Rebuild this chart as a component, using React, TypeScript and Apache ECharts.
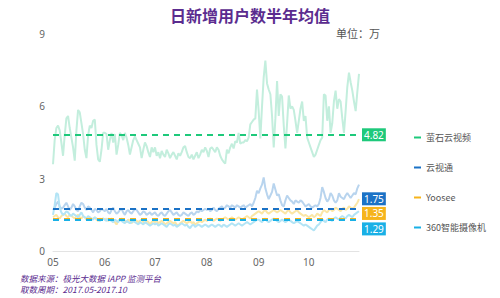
import React, { useEffect, useRef } from "react";
import * as echarts from "echarts";

const monthLabels = ["05", "06", "07", "08", "09", "10"];
const monthDays = [31, 30, 31, 31, 30, 31];

const seriesNames = ["萤石云视频", "云视通", "Yoosee", "360智能摄像机"];
const meanValues = [4.82, 1.75, 1.35, 1.29];

const ezviz = [
  3.6, 4.6, 5.1, 5.2, 5.0, 4.5, 3.95, 4.8, 5.5, 5.6, 5.1, 4.7, 4.3, 3.75, 5.0, 5.85, 5.75, 5.3, 4.85, 4.2, 3.85, 4.8, 5.2, 5.1, 5.4, 5.45, 4.4, 3.8, 3.7, 4.2, 4.9,
  4.9, 4.85, 4.2, 4.6, 4.9, 4.5, 4.85, 4.0, 4.4, 4.9, 4.8, 4.6, 4.9, 4.7, 4.4, 4.0, 4.3, 4.6, 4.75, 4.6, 4.45, 4.3, 3.85, 4.2, 4.5, 4.35, 4.1, 3.9, 4.3, 4.1,
  4.3, 3.95, 4.1, 3.85, 4.15, 4.0, 3.9, 4.2, 4.05, 3.85, 4.0, 4.1, 3.95, 3.8, 4.05, 3.95, 4.1, 4.3, 4.35, 4.1, 3.9, 3.85, 4.0, 3.8, 3.95, 4.1, 3.85, 4.0, 4.2, 4.1, 4.3,
  4.15, 3.9, 4.25, 4.3, 4.2, 4.1, 4.3, 4.2, 3.95, 3.8, 3.7, 3.62, 4.2, 4.05, 4.3, 4.45, 4.25, 4.55, 4.5, 4.9, 4.45, 4.5, 4.5, 4.6, 4.55, 4.7, 5.25, 5.35, 5.45, 5.5, 6.7,
  5.8, 4.67, 6.0, 7.2, 7.9, 6.95, 6.7, 6.5, 5.6, 4.3, 5.5, 7.05, 5.6, 6.5, 6.4, 5.2, 4.25, 5.3, 6.45, 5.9, 6.0, 5.85, 5.4, 4.9, 5.4, 5.9, 6.2, 5.4, 5.6, 4.7,
  4.5, 4.3, 4.1, 3.9, 4.0, 4.2, 4.4, 4.6, 4.7, 6.5, 6.45, 5.4, 6.0, 4.9, 5.3, 6.2, 6.65, 5.9, 6.3, 6.2, 5.5, 4.9, 5.8, 6.8, 7.4, 7.0, 6.65, 6.2, 5.8, 6.6, 7.35,
];

const yunshitong = [
  1.7, 1.8, 1.95, 2.05, 1.85, 1.75, 1.8, 1.9, 2.0, 1.85, 1.7, 1.8, 1.95, 1.85, 1.7, 1.65, 1.85, 2.0, 1.95, 1.8, 1.7, 1.85, 1.8, 1.7, 1.6, 1.75, 1.7, 1.6, 1.65, 1.75, 1.7,
  1.65, 1.75, 1.6, 1.55, 1.7, 1.8, 1.65, 1.55, 1.6, 1.7, 1.75, 1.6, 1.5, 1.65, 1.7, 1.6, 1.55, 1.65, 1.75, 1.7, 1.6, 1.5, 1.55, 1.65, 1.6, 1.5, 1.55, 1.6, 1.5, 1.55,
  1.6, 1.5, 1.45, 1.55, 1.6, 1.5, 1.45, 1.55, 1.65, 1.7, 1.6, 1.5, 1.55, 1.6, 1.5, 1.45, 1.5, 1.6, 1.55, 1.5, 1.45, 1.55, 1.6, 1.5, 1.55, 1.65, 1.6, 1.7, 1.65, 1.7, 1.75,
  1.7, 1.75, 1.65, 1.7, 1.8, 1.7, 1.65, 1.75, 1.8, 1.85, 1.75, 1.8, 1.9, 1.85, 1.8, 1.9, 1.85, 1.8, 1.9, 1.85, 1.8, 1.85, 1.9, 1.8, 1.85, 1.9, 1.95, 1.85, 2.0, 2.2, 2.5,
  2.4, 2.6, 2.75, 3.05, 2.6, 2.35, 2.15, 2.3, 2.45, 2.8, 2.55, 2.3, 2.35, 2.1, 1.9, 1.85, 2.1, 2.3, 2.2, 2.1, 2.05, 1.95, 2.1, 2.05, 2.0, 2.1, 2.05, 1.95, 1.85, 1.9,
  1.95, 1.85, 1.8, 1.85, 1.9, 1.85, 1.95, 2.2, 2.65, 2.45, 2.2, 2.05, 2.15, 2.4, 2.3, 2.1, 2.0, 2.1, 2.4, 2.25, 2.2, 2.15, 2.3, 2.4, 2.3, 2.2, 2.3, 2.4, 2.35, 2.6, 2.75,
];

const yoosee = [
  1.4, 1.45, 1.5, 1.4, 1.35, 1.45, 1.5, 1.55, 1.45, 1.4, 1.5, 1.45, 1.4, 1.35, 1.45, 1.5, 1.4, 1.35, 1.45, 1.4, 1.3, 1.35, 1.4, 1.3, 1.35, 1.4, 1.3, 1.25, 1.35, 1.3, 1.35,
  1.3, 1.35, 1.25, 1.3, 1.35, 1.3, 1.2, 1.1, 1.25, 1.3, 1.35, 1.3, 1.25, 1.2, 1.3, 1.25, 1.15, 1.25, 1.3, 1.25, 1.2, 1.25, 1.3, 1.2, 1.15, 1.25, 1.2, 1.1, 1.2, 1.25,
  1.2, 1.25, 1.15, 1.2, 1.25, 1.2, 1.1, 1.15, 1.2, 1.25, 1.2, 1.15, 1.2, 1.1, 1.05, 1.15, 1.2, 1.25, 1.2, 1.15, 1.2, 1.25, 1.15, 1.2, 1.1, 1.15, 1.2, 1.25, 1.2, 1.25, 1.3,
  1.25, 1.3, 1.35, 1.3, 1.25, 1.3, 1.35, 1.3, 1.25, 1.3, 1.35, 1.4, 1.35, 1.3, 1.35, 1.4, 1.35, 1.3, 1.35, 1.4, 1.35, 1.3, 1.35, 1.4, 1.45, 1.4, 1.35, 1.45, 1.5, 1.55, 1.6,
  1.65, 1.6, 1.55, 1.65, 1.7, 1.6, 1.55, 1.6, 1.65, 1.7, 1.65, 1.6, 1.65, 1.7, 1.65, 1.6, 1.55, 1.65, 1.7, 1.6, 1.55, 1.6, 1.65, 1.7, 1.6, 1.55, 1.5, 1.45, 1.5, 1.45,
  1.4, 1.45, 1.5, 1.4, 1.45, 1.55, 1.5, 1.45, 1.6, 1.7, 1.65, 1.6, 1.7, 1.75, 1.65, 1.7, 1.8, 1.75, 1.7, 1.65, 1.75, 1.8, 1.7, 1.75, 1.85, 1.8, 1.75, 1.8, 1.9, 2.0, 2.15,
];

const cam360 = [
  1.5, 1.9, 2.4, 2.35, 1.8, 1.6, 1.5, 1.55, 1.65, 1.6, 1.5, 1.45, 1.55, 1.5, 1.45, 1.4, 1.5, 1.6, 1.45, 1.4, 1.35, 1.45, 1.4, 1.35, 1.3, 1.4, 1.35, 1.3, 1.25, 1.3, 1.35,
  1.3, 1.25, 1.35, 1.3, 1.25, 1.2, 1.3, 1.25, 1.2, 1.3, 1.25, 1.2, 1.15, 1.25, 1.2, 1.15, 1.2, 1.25, 1.2, 1.15, 1.1, 1.2, 1.15, 1.1, 1.2, 1.15, 1.1, 1.05, 1.1, 1.15,
  1.1, 1.15, 1.05, 1.1, 1.15, 1.1, 1.05, 1.0, 1.1, 1.15, 1.1, 1.05, 1.1, 1.0, 1.05, 1.1, 1.15, 1.1, 1.05, 1.1, 1.0, 0.95, 1.05, 1.1, 1.0, 1.05, 1.1, 1.05, 1.0, 1.05, 1.1,
  1.05, 1.0, 1.05, 1.1, 1.05, 1.0, 1.05, 1.1, 1.05, 1.0, 1.1, 1.05, 1.0, 1.05, 1.1, 1.15, 1.1, 1.05, 1.1, 1.15, 1.1, 1.05, 1.1, 1.15, 1.2, 1.15, 1.1, 1.15, 1.2, 1.25, 1.3,
  1.3, 1.25, 1.2, 1.3, 1.35, 1.25, 1.2, 1.25, 1.3, 1.35, 1.3, 1.25, 1.2, 1.25, 1.3, 1.25, 1.2, 1.25, 1.3, 1.25, 1.2, 1.15, 1.2, 1.25, 1.2, 1.15, 1.1, 1.05, 1.1, 1.05,
  1.0, 0.95, 0.9, 0.85, 0.95, 1.05, 1.1, 1.2, 1.3, 1.25, 1.2, 1.3, 1.35, 1.3, 1.25, 1.35, 1.4, 1.35, 1.3, 1.4, 1.45, 1.4, 1.35, 1.45, 1.5, 1.45, 1.4, 1.5, 1.55, 1.6, 1.65,
];

const footerLines = ["数据来源：极光大数据 iAPP 监测平台", "取数周期：2017.05-2017.10"];

const lineColors = ["#c3eedd", "#b8d4ee", "#fbe6a6", "#b3e4f5"];
const meanColors = ["#1ec97b", "#1b72c6", "#f6b41c", "#19b0e6"];
const labelOffsets = [0, -10, -5, 9];

export default function App() {
  const ref = useRef<HTMLDivElement>(null);
  useEffect(() => {
    if (!ref.current) return;
    const chart = echarts.init(ref.current, null, { renderer: "svg" });
    const dates: string[] = [];
    monthLabels.forEach((m, i) => {
      for (let d = 1; d <= monthDays[i]; d++) {
        dates.push(`2017-${m}-${d < 10 ? "0" + d : d}`);
      }
    });
    const dataSets = [ezviz, yunshitong, yoosee, cam360];
    const font = "'Noto Sans', 'Noto Sans CJK SC', sans-serif";
    const cjk = "'Noto Sans CJK SC', sans-serif";
    chart.setOption({
      animation: false,
      textStyle: { fontFamily: font },
      title: {
        text: "日新增用户数半年均值",
        left: "center",
        top: 2,
        textStyle: { fontSize: 16, fontWeight: "bold", color: "#5b2c8f", fontFamily: cjk },
      },
      grid: { left: 53, right: 141, top: 34, bottom: 47 },
      legend: {
        orient: "vertical",
        left: 409,
        top: 128,
        itemGap: 21,
        icon: "rect",
        itemWidth: 7,
        itemHeight: 2,
        textStyle: { color: "#555", fontSize: 9, fontFamily: cjk },
        data: seriesNames.map((n, i) => ({ name: n, itemStyle: { color: meanColors[i] } })),
      },
      xAxis: {
        type: "category",
        data: dates,
        boundaryGap: false,
        axisLine: { lineStyle: { color: "#e3e3e3" } },
        axisTick: { show: false },
        axisLabel: {
          color: "#666",
          fontSize: 10,
          margin: 6,
          interval: (idx: number, val: string) => val.endsWith("-01"),
          formatter: (val: string) => val.slice(5, 7),
        },
      },
      yAxis: {
        type: "value",
        min: 0,
        max: 9,
        interval: 3,
        axisLine: { show: false },
        axisTick: { show: false },
        splitLine: { show: false },
        axisLabel: { color: "#666", fontSize: 10 },
      },
      series: seriesNames.map((n, i) => ({
        name: n,
        type: "line",
        data: dataSets[i],
        showSymbol: false,
        symbol: "none",
        itemStyle: { color: meanColors[i] },
        lineStyle: { color: lineColors[i], width: 2 },
        z: 2,
        markLine: {
          silent: true,
          symbol: "none",
          z: 5,
          lineStyle: { color: meanColors[i], type: [6, 5], width: 2 },
          label: {
            show: true,
            position: "end",
            distance: 3,
            offset: [0, labelOffsets[i]],
            formatter: String(meanValues[i]),
            color: "#fff",
            backgroundColor: meanColors[i],
            padding: [2, 2, 1, 2],
            fontSize: 10,
          },
          data: [{ yAxis: meanValues[i] }],
        },
      })),
      graphic: [
        {
          type: "text",
          left: 336,
          top: 27,
          style: { text: "单位：万", fill: "#555", fontSize: 11, fontFamily: cjk },
        },
        ...footerLines.map((t, i) => ({
          type: "text",
          left: 20,
          top: 274 + i * 10.5,
          style: {
            text: t,
            fill: "#5b2c8f",
            fontSize: 8.5,
            fontStyle: "italic",
            fontFamily: cjk,
          },
        })),
      ],
    });
    return () => chart.dispose();
  }, []);
  return <div ref={ref} style={{ position: "absolute", left: 0, top: 0, width: 500, height: 298 }} />;
}
